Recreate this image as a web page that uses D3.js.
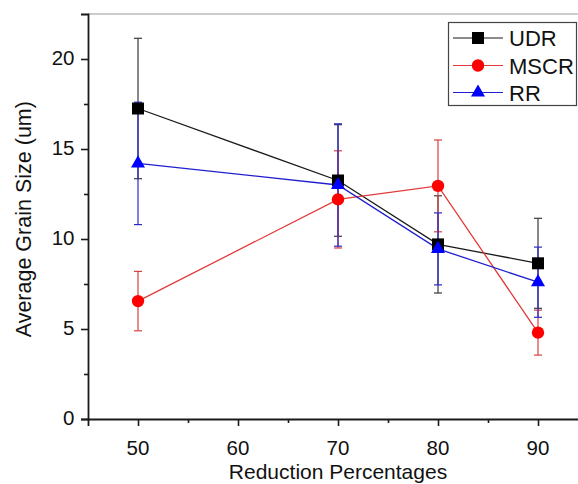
<!DOCTYPE html>
<html>
<head>
<meta charset="utf-8">
<script src="https://cdn.jsdelivr.net/npm/d3@7"></script>
<style>
  body { margin: 0; background: #fff; }
  svg { display: block; }
  text { font-family: "Liberation Sans", Arial, sans-serif; fill: #111; }
</style>
</head>
<body>
<svg id="chart" width="578" height="484"></svg>
<script>
// Reduction percentages (x) and mean grain size with standard deviation (y)
const reductions = [50, 70, 80, 90];
const udrMean  = [17.25, 13.25, 9.7, 8.65];
const udrErr   = [3.9, 3.1, 2.7, 2.5];
const mscrMean = [6.55, 12.2, 12.95, 4.8];
const mscrErr  = [1.65, 2.7, 2.55, 1.25];
const rrMean   = [14.2, 13.0, 9.45, 7.6];
const rrErr    = [3.4, 3.4, 2.0, 1.95];

const seriesNames = ["UDR", "MSCR", "RR"];
const xTicks = [50, 60, 70, 80, 90];
const xMinorTicks = [55, 65, 75, 85];
const yTicks = [0, 5, 10, 15, 20];
const yMinorTicks = [2.5, 7.5, 12.5, 17.5];
const xTitle = "Reduction Percentages";
const yTitle = "Average Grain Size (um)";

const series = [
  { name: seriesNames[0], mean: udrMean,  err: udrErr,  line: "#1a1a1a", bar: "#3a3a3a", fill: "#000000", symbol: d3.symbolSquare,   size: 144 },
  { name: seriesNames[1], mean: mscrMean, err: mscrErr, line: "#e23a3a", bar: "#d84040", fill: "#ff0000", symbol: d3.symbolCircle,   size: 121 },
  { name: seriesNames[2], mean: rrMean,   err: rrErr,   line: "#1f1fd0", bar: "#2a2ac8", fill: "#0000ff", symbol: d3.symbolTriangle, size: 85 }
];

const svg = d3.select("#chart");
const x = d3.scaleLinear().domain([45, 95]).range([88, 588]);
const y = d3.scaleLinear().domain([0, 22.5]).range([419, 14]);

// top frame line
svg.append("line")
  .attr("x1", x(45)).attr("x2", 578)
  .attr("y1", y(22.5)).attr("y2", y(22.5))
  .attr("stroke", "#9a9a9a").attr("stroke-width", 1.2);

// axes
const axisColor = "#1a1a1a";
const xAxis = svg.append("g").attr("transform", `translate(0,${y(0)})`)
  .call(d3.axisBottom(x).tickValues(xTicks).tickSize(7).tickFormat(""));
const yAxis = svg.append("g").attr("transform", `translate(${x(45)},0)`)
  .call(d3.axisLeft(y).tickValues(yTicks).tickSize(7).tickFormat(""));
[xAxis, yAxis].forEach(g => {
  g.select(".domain").attr("stroke", axisColor).attr("stroke-width", 1.8);
  g.selectAll(".tick line").attr("stroke", axisColor).attr("stroke-width", 1.6);
});
svg.append("g").attr("transform", `translate(0,${y(0)})`)
  .call(d3.axisBottom(x).tickValues(xMinorTicks).tickSize(4).tickFormat(""))
  .call(g => g.select(".domain").remove())
  .selectAll(".tick line").attr("stroke", axisColor).attr("stroke-width", 1.6);
svg.append("g").attr("transform", `translate(${x(45)},0)`)
  .call(d3.axisLeft(y).tickValues(yMinorTicks).tickSize(4).tickFormat(""))
  .call(g => g.select(".domain").remove())
  .selectAll(".tick line").attr("stroke", axisColor).attr("stroke-width", 1.6);

// tick labels
svg.append("g").selectAll("text").data(xTicks).join("text")
  .attr("x", d => x(d)).attr("y", 454.5)
  .attr("text-anchor", "middle").attr("font-size", 20.5)
  .text(d => d);
svg.append("g").selectAll("text").data(yTicks).join("text")
  .attr("x", 74.5).attr("y", d => y(d) + 5.5)
  .attr("text-anchor", "end").attr("font-size", 20.5)
  .text(d => d);

// axis titles
svg.append("text")
  .attr("x", x(70)).attr("y", 478.5)
  .attr("text-anchor", "middle").attr("font-size", 21)
  .text(xTitle);
svg.append("text")
  .attr("transform", `translate(31,${y(11.1)}) rotate(-90)`)
  .attr("text-anchor", "middle").attr("font-size", 21.5)
  .text(yTitle);

// error bars
const capHalf = 4;
series.forEach(s => {
  const g = svg.append("g").attr("stroke", s.bar).attr("stroke-width", 1.2);
  reductions.forEach((r, i) => {
    const lo = s.mean[i] - s.err[i], hi = s.mean[i] + s.err[i];
    g.append("line").attr("x1", x(r)).attr("x2", x(r)).attr("y1", y(lo)).attr("y2", y(hi));
    g.append("line").attr("x1", x(r) - capHalf).attr("x2", x(r) + capHalf).attr("y1", y(lo)).attr("y2", y(lo));
    g.append("line").attr("x1", x(r) - capHalf).attr("x2", x(r) + capHalf).attr("y1", y(hi)).attr("y2", y(hi));
  });
});

// connecting lines
const lineGen = d3.line().x((d, i) => x(reductions[i])).y(d => y(d));
series.forEach(s => {
  svg.append("path").datum(s.mean)
    .attr("d", lineGen)
    .attr("fill", "none").attr("stroke", s.line).attr("stroke-width", 1.3);
});

// markers
series.forEach(s => {
  svg.append("g").selectAll("path").data(s.mean).join("path")
    .attr("transform", (d, i) => `translate(${x(reductions[i])},${y(d)})`)
    .attr("d", d3.symbol().type(s.symbol).size(s.size))
    .attr("fill", s.fill);
});

// legend
const legend = svg.append("g");
legend.append("rect")
  .attr("x", 448.5).attr("y", 22.5).attr("width", 128).attr("height", 83)
  .attr("fill", "#fff").attr("stroke", "#444").attr("stroke-width", 1.2);
const rowY = [38, 65.5, 92.5];
series.forEach((s, i) => {
  legend.append("line")
    .attr("x1", 453).attr("x2", 503).attr("y1", rowY[i]).attr("y2", rowY[i])
    .attr("stroke", s.line).attr("stroke-width", 1.2);
  legend.append("path")
    .attr("transform", `translate(478,${rowY[i]})`)
    .attr("d", d3.symbol().type(s.symbol).size(s.size))
    .attr("fill", s.fill);
  legend.append("text")
    .attr("x", 509).attr("y", rowY[i] + 8)
    .attr("font-size", 22)
    .text(s.name);
});
</script>
</body>
</html>
